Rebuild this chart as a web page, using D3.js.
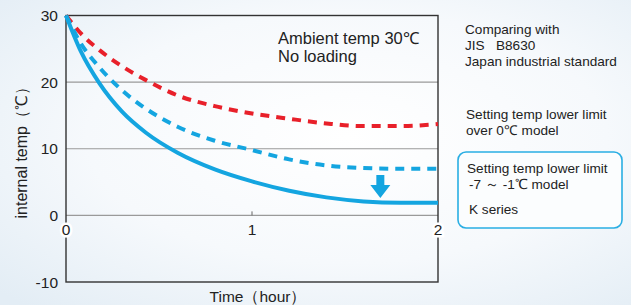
<!DOCTYPE html>
<html><head><meta charset="utf-8">
<script src="https://cdn.jsdelivr.net/npm/d3@7"></script>
<style>body{margin:0;background:#fff;}svg{display:block;font-family:"Liberation Sans",Arial,sans-serif;}</style>
</head><body>
<script>
const hours = [0, 0.08, 0.18, 0.3, 0.43, 0.6, 0.8, 1.0, 1.2, 1.4, 1.6, 1.8, 2.0];
const jisOver0 = [30, 27.3, 24.8, 22.4, 20.3, 18.0, 16.4, 15.3, 14.5, 13.8, 13.4, 13.4, 13.7];
const jisModel = [30, 25.8, 22.2, 18.8, 16.0, 13.3, 11.2, 9.8, 8.4, 7.5, 7.1, 7.0, 7.0];
const kSeries  = [30, 24.6, 19.8, 15.6, 12.4, 9.4, 6.9, 5.1, 3.7, 2.7, 2.1, 1.9, 1.9];
const yTicks = [30, 20, 10, 0, -10];
const xTicks = [0, 1, 2];

const W = 631, H = 305;
const svg = d3.select("body").append("svg").attr("width", W).attr("height", H);
const defs = svg.append("defs");
const rg = defs.append("radialGradient").attr("id","bg").attr("cx","0.55").attr("cy","0.45").attr("r","0.75");
rg.append("stop").attr("offset","0").attr("stop-color","#ffffff");
rg.append("stop").attr("offset","0.55").attr("stop-color","#f6f9fc");
rg.append("stop").attr("offset","1").attr("stop-color","#e3edf5");
svg.append("rect").attr("width", W).attr("height", H).attr("fill","url(#bg)");

const x = d3.scaleLinear().domain([0, 2]).range([66, 438]);
const y = d3.scaleLinear().domain([-10, 30]).range([282, 15.5]);

// gridlines
svg.append("g").selectAll("line").data([20, 10, 0]).join("line")
  .attr("x1", x(0)).attr("x2", x(2)).attr("y1", d => y(d)).attr("y2", d => y(d))
  .attr("stroke", "#9a9a9a").attr("stroke-width", 1.2);

// frame
svg.append("rect").attr("x", x(0)).attr("y", y(30)).attr("width", x(2) - x(0)).attr("height", y(-10) - y(30))
  .attr("fill","none").attr("stroke","#333").attr("stroke-width",1.4);

// tick at 1
svg.append("line").attr("x1", x(1)).attr("x2", x(1)).attr("y1", y(0)).attr("y2", y(0) - 4).attr("stroke","#666").attr("stroke-width",1);

// y tick labels
svg.append("g").selectAll("text").data(yTicks).join("text")
  .attr("x", 58).attr("y", d => y(d)).attr("dy","0.36em").attr("text-anchor","end")
  .attr("font-size", 15.5).attr("fill","#222").text(d => d);

// x tick labels with white halo
svg.append("g").selectAll("text").data(xTicks).join("text")
  .attr("x", d => x(d)).attr("y", y(0) + 20).attr("text-anchor","middle")
  .attr("font-size", 15.5).attr("fill","#222")
  .attr("stroke", d => d === 1 ? "none" : "#fff").attr("stroke-width", 5).attr("paint-order","stroke")
  .text(d => d);

const line = (vals) => d3.line().x((d, i) => x(hours[i])).y(d => y(d)).curve(d3.curveMonotoneX)(vals);

svg.append("path").attr("d", line(jisOver0)).attr("fill","none").attr("stroke","#e8202a")
  .attr("stroke-width", 4).attr("stroke-dasharray","9,7");
svg.append("path").attr("d", line(jisModel)).attr("fill","none").attr("stroke","#14a5e0")
  .attr("stroke-width", 4).attr("stroke-dasharray","9,7");
svg.append("path").attr("d", line(kSeries)).attr("fill","none").attr("stroke","#14a5e0")
  .attr("stroke-width", 4);

// arrow
const ax = x(1.69);
svg.append("path")
  .attr("d", `M${ax-4},175 L${ax+4},175 L${ax+4},185 L${ax+10},185 L${ax},198 L${ax-10},185 L${ax-4},185 Z`)
  .attr("fill","#14a5e0");

// annotation
const ann = svg.append("text").attr("font-size", 16.5).attr("fill","#222");
ann.append("tspan").attr("x", 278).attr("y", 44).text("Ambient temp 30℃");
ann.append("tspan").attr("x", 278).attr("y", 62).text("No loading");

// axis titles
svg.append("text").attr("transform", `translate(27,${y(10)}) rotate(-90)`).attr("text-anchor","middle")
  .attr("font-size", 16).attr("fill","#222").text("internal temp（℃）");
svg.append("text").attr("x", 258).attr("y", 302).attr("text-anchor","middle")
  .attr("font-size", 15.5).attr("fill","#222").text("Time（hour）");

// legend texts
const lg = svg.append("g").attr("font-size", 13.6).attr("fill","#222");
const t1 = lg.append("text");
t1.append("tspan").attr("x", 465).attr("y", 34).text("Comparing with");
t1.append("tspan").attr("x", 465).attr("y", 50).text("JIS\u00a0\u00a0\u00a0B8630");
t1.append("tspan").attr("x", 465).attr("y", 66).text("Japan industrial standard");
const t2 = lg.append("text");
t2.append("tspan").attr("x", 466).attr("y", 119).text("Setting temp lower limit");
t2.append("tspan").attr("x", 466).attr("y", 135).text("over 0℃ model");

lg.append("rect").attr("x", 458).attr("y", 152).attr("width", 164).attr("height", 76).attr("rx", 8)
  .attr("fill", "#fbfdfe").attr("stroke", "#2aaee3").attr("stroke-width", 1.6);
const t3 = lg.append("text");
t3.append("tspan").attr("x", 467).attr("y", 173).text("Setting temp lower limit");
t3.append("tspan").attr("x", 469).attr("y", 189).text("-7 ～ -1℃ model");
lg.append("text").attr("x", 469).attr("y", 214).text("K series");
</script>
</body></html>
